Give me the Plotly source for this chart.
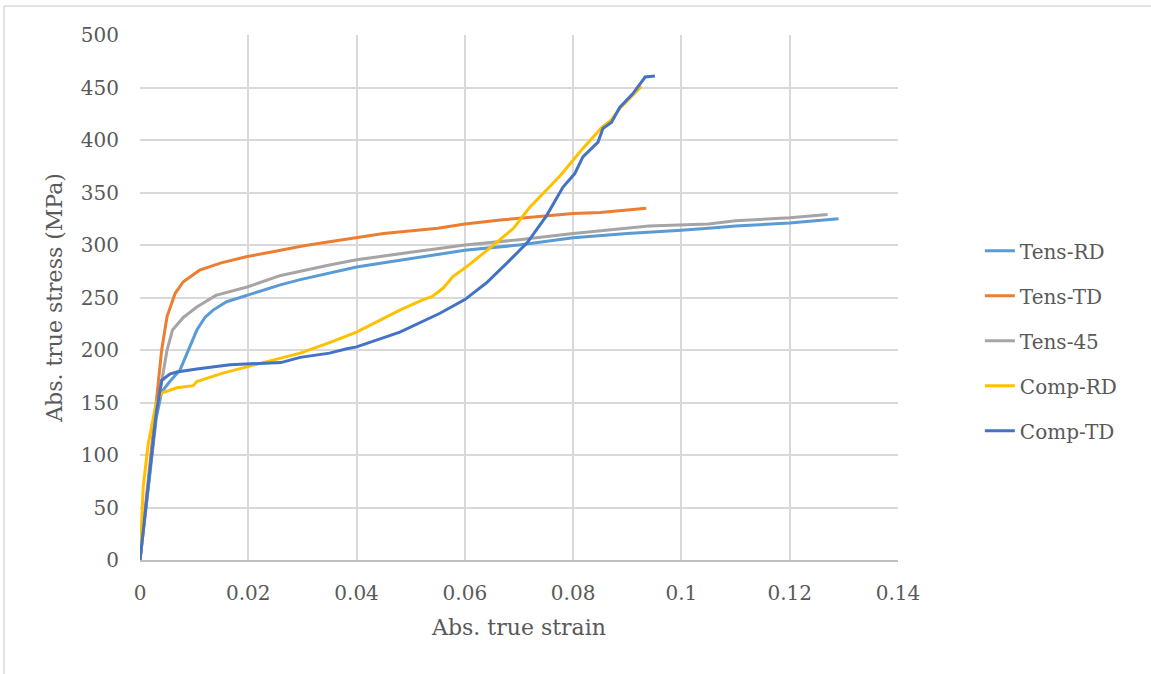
import plotly.graph_objects as go

# ---- data (abs. true strain, abs. true stress MPa) ----
tens_rd_x = [0, 0.001, 0.002, 0.003, 0.004, 0.0055, 0.0074, 0.009, 0.0105, 0.0120, 0.0135, 0.016, 0.0198, 0.0259, 0.0296, 0.035, 0.040, 0.045, 0.050, 0.055, 0.060, 0.070, 0.080, 0.090, 0.094, 0.100, 0.105, 0.110, 0.120, 0.129]
tens_rd_y = [0, 45, 95, 135, 160, 170, 181, 200, 219, 231, 238, 246, 252, 262, 267, 273, 279, 283, 287, 291, 295, 300, 307, 311, 312, 314, 316, 318, 321, 325]

tens_td_x = [0, 0.001, 0.002, 0.003, 0.004, 0.005, 0.0065, 0.008, 0.011, 0.015, 0.0198, 0.025, 0.030, 0.035, 0.040, 0.045, 0.055, 0.060, 0.067, 0.073, 0.080, 0.085, 0.090, 0.0935]
tens_td_y = [0, 50, 100, 150, 200, 232, 254, 265, 276, 283, 289, 294, 299, 303, 307, 311, 316, 320, 324, 327, 330, 331, 333, 335]

tens_45_x = [0, 0.001, 0.002, 0.003, 0.004, 0.005, 0.006, 0.008, 0.0105, 0.014, 0.0198, 0.026, 0.035, 0.040, 0.050, 0.060, 0.070, 0.080, 0.094, 0.100, 0.105, 0.110, 0.120, 0.127]
tens_45_y = [0, 48, 98, 140, 170, 200, 219, 231, 241, 252, 260, 271, 281, 286, 293, 300, 305, 311, 318, 319, 320, 323, 326, 329]

comp_rd_x = [0, 0.0003, 0.0006, 0.0015, 0.003, 0.004, 0.0068, 0.0098, 0.0105, 0.0153, 0.0198, 0.026, 0.0296, 0.035, 0.040, 0.048, 0.0523, 0.054, 0.056, 0.0578, 0.060, 0.0646, 0.069, 0.072, 0.075, 0.0776, 0.0789, 0.0818, 0.0853, 0.087, 0.0886, 0.0926]
comp_rd_y = [0, 45, 70, 110, 150, 159, 164, 166, 170, 178, 184, 192, 197, 207, 217, 238, 248, 251, 259, 270, 278, 297, 316, 336, 352, 366, 374, 392, 412, 419, 430, 451]

comp_td_x = [0, 0.001, 0.002, 0.003, 0.004, 0.0055, 0.0068, 0.0105, 0.0166, 0.026, 0.0296, 0.035, 0.038, 0.040, 0.048, 0.0554, 0.060, 0.064, 0.0678, 0.0715, 0.0751, 0.0781, 0.0803, 0.0818, 0.0846, 0.0855, 0.0871, 0.0886, 0.091, 0.0933, 0.0951]
comp_td_y = [0, 45, 95, 140, 171, 177, 179, 182, 186, 188, 193, 197, 201, 203, 217, 235, 248, 264, 283, 302, 328, 355, 368, 384, 398, 411, 417, 431, 444, 460, 461]

series = [
    ("Tens-RD", tens_rd_x, tens_rd_y, "#5B9BD5"),
    ("Tens-TD", tens_td_x, tens_td_y, "#ED7D31"),
    ("Tens-45", tens_45_x, tens_45_y, "#A5A5A5"),
    ("Comp-RD", comp_rd_x, comp_rd_y, "#FFC000"),
    ("Comp-TD", comp_td_x, comp_td_y, "#4472C4"),
]

FONT = "DejaVu Serif"
TXT = "#595959"

fig = go.Figure()
for i, (name, xs, ys, col) in enumerate(series):
    fig.add_trace(go.Scatter(x=xs, y=ys, mode="lines", name=name,
                             legendgroup=name,
                             line=dict(color=col, width=3)))

fig.update_layout(
    width=1151, height=674,
    margin=dict(l=140, r=253, t=35, b=114),
    paper_bgcolor="white", plot_bgcolor="white",
    font=dict(family=FONT, size=20, color=TXT),
    legend=dict(x=1.108, y=0.626, xanchor="left", yanchor="top",
                tracegroupgap=16, font=dict(size=20, color=TXT),
                bgcolor="rgba(0,0,0,0)"),
    xaxis=dict(range=[0, 0.14], dtick=0.02, tickformat="~g",
               showgrid=True, gridcolor="#D9D9D9", gridwidth=2,
               zeroline=False, showline=True, linecolor="#BFBFBF", linewidth=2,
               ticks="", ticklen=0, ticklabelstandoff=14,
               tickfont=dict(size=20, color=TXT),
               title=dict(text="Abs. true strain", font=dict(size=22, color=TXT), standoff=16)),
    yaxis=dict(range=[0, 500], dtick=50,
               showgrid=True, gridcolor="#D9D9D9", gridwidth=2,
               zeroline=False, showline=False, ticks="", ticklabelstandoff=20,
               tickfont=dict(size=20, color=TXT),
               title=dict(text="Abs. true stress (MPa)", font=dict(size=22, color=TXT), standoff=12)),
    shapes=[
        dict(type="line", xref="paper", yref="paper",
             x0=(4 - 140) / 758, x1=1.5, y0=(560 - 6) / 525, y1=(560 - 6) / 525,
             line=dict(color="#D9D9D9", width=1.5)),
        dict(type="line", xref="paper", yref="paper",
             x0=(4 - 140) / 758, x1=(4 - 140) / 758, y0=(560 - 6) / 525, y1=-0.5,
             line=dict(color="#D9D9D9", width=1.5)),
    ],
)

fig.write_html("out.html")
